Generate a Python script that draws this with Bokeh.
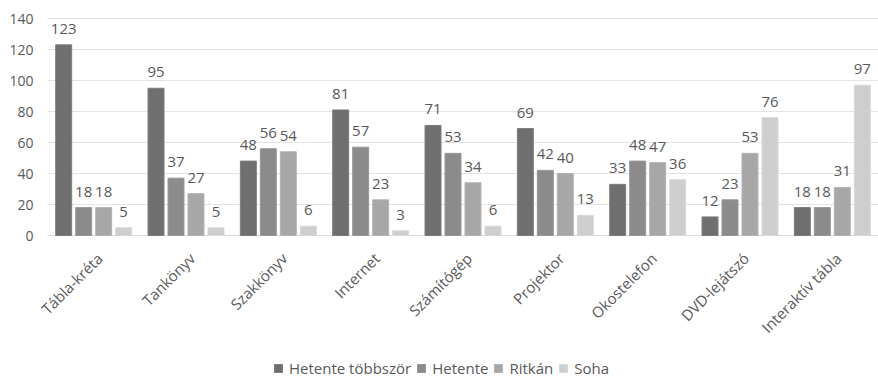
from bokeh.plotting import figure
from bokeh.models import ColumnDataSource, Legend, LegendItem, Range1d
from bokeh.core.properties import value
from bokeh.embed import file_html
from bokeh.resources import INLINE
import math

categories = ["Tábla-kréta", "Tankönyv", "Szakkönyv", "Internet", "Számítógép",
              "Projektor", "Okostelefon", "DVD-lejátszó", "Interaktív tábla"]
series_names = ["Hetente többször", "Hetente", "Ritkán", "Soha"]
hetente_tobbszor = [123, 95, 48, 81, 71, 69, 33, 12, 18]
hetente = [18, 37, 56, 57, 53, 42, 48, 23, 18]
ritkan = [18, 27, 54, 23, 34, 40, 47, 53, 31]
soha = [5, 5, 6, 3, 6, 13, 36, 76, 97]
y_ticks = [0, 20, 40, 60, 80, 100, 120, 140]

series_values = [hetente_tobbszor, hetente, ritkan, soha]
colors = ["#6f6f6f", "#8b8b8b", "#a7a7a7", "#cecece"]
line_colors = ["#7c7c7c", "#979797", "#b3b3b3", "#d8d8d8"]

FONT = "Open Sans"
TEXT_COLOR = "#595959"

W, H = 878, 378
LEFT = 47                           # pixel column where the category band starts
TOP, PLOT_BOTTOM = 18, 235          # pixel rows of 140 and 0
Y_MAX = 140
n = len(categories)
px_per_unit = (PLOT_BOTTOM - TOP) / Y_MAX
px_per_cat = (W - LEFT) / n
# the frame covers the whole canvas so rotated names, tick labels and legend fit inside it
x_start = -LEFT / px_per_cat
y_start = -(H - PLOT_BOTTOM) / px_per_unit
y_end = Y_MAX + TOP / px_per_unit

p = figure(width=W, height=H, output_backend="svg", toolbar_location=None,
           x_range=Range1d(x_start, n), y_range=Range1d(y_start, y_end),
           min_border=0)
p.outline_line_color = None
p.background_fill_color = "white"
p.border_fill_color = "white"
p.xaxis.visible = False
p.yaxis.visible = False
p.grid.visible = False

# horizontal gridlines and value labels
grid_colors = ["#d9d9d9" if t == 0 else "#e4e4e4" for t in y_ticks]
p.segment(x0=[0] * len(y_ticks), x1=[n] * len(y_ticks), y0=y_ticks, y1=y_ticks,
          line_color=grid_colors, line_width=1)
p.text(x=[0] * len(y_ticks), y=y_ticks, text=[str(t) for t in y_ticks],
       text_align="right", text_baseline="middle", x_offset=-14,
       text_font=value(FONT), text_font_size="14px", text_color=TEXT_COLOR)

step = 0.2165
width = 0.173
legend_items = []
for k, (name, vals) in enumerate(zip(series_names, series_values)):
    xs = [i + 0.5 + (k - 1.5) * step for i in range(n)]
    src = ColumnDataSource(dict(x=xs, top=vals, label=[str(v) for v in vals]))
    r = p.vbar(x="x", top="top", bottom=0, width=width, source=src,
               fill_color=colors[k], line_color=line_colors[k], line_width=1)
    p.text(x="x", y="top", text="label", source=src,
           text_align="center", text_baseline="bottom", y_offset=-11,
           text_font=value(FONT), text_font_size="15px", text_color=TEXT_COLOR)
    legend_items.append(LegendItem(label=name, renderers=[r]))

# category names, rotated 45 degrees under each group
cat_src = ColumnDataSource(dict(x=[i + 0.5 for i in range(n)], y=[0] * n, text=categories))
p.text(x="x", y="y", text="text", source=cat_src, angle=math.pi / 4,
       text_align="right", text_baseline="middle", x_offset=6, y_offset=20,
       text_font=value(FONT), text_font_size="15px", text_color=TEXT_COLOR)

legend = Legend(items=legend_items, orientation="horizontal",
                location=(273, 0), border_line_color=None,
                background_fill_alpha=0, padding=0, margin=0, spacing=5,
                label_standoff=6, glyph_width=10, glyph_height=10,
                label_text_font=FONT, label_text_font_size="15px",
                label_text_color=TEXT_COLOR, label_height=16)
p.add_layout(legend, "center")

open("out.html", "w").write(file_html(p, INLINE))
